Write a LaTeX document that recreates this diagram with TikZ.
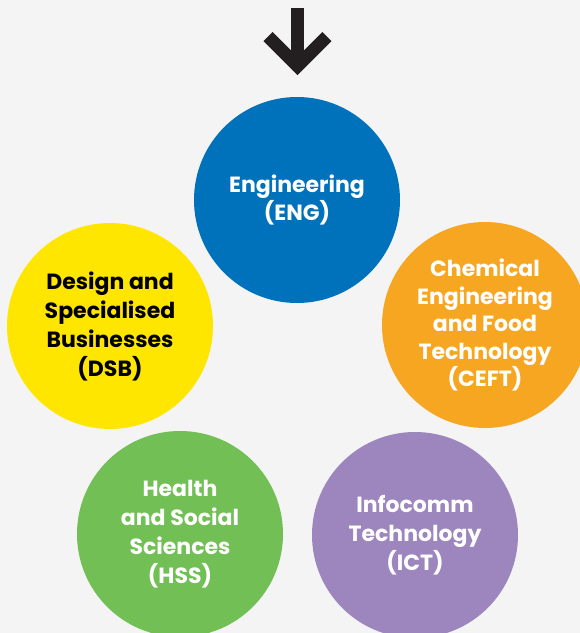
\documentclass[tikz,border=0pt]{standalone}
\usepackage{fontspec}
\setmainfont{Poppins}
\definecolor{bg}{HTML}{F4F4F4}
\definecolor{cblue}{HTML}{0071BB}
\definecolor{cyellow}{HTML}{FFE600}
\definecolor{corange}{HTML}{F7A622}
\definecolor{cgreen}{HTML}{72BF55}
\definecolor{cpurple}{HTML}{9C86BD}
\definecolor{arrowc}{HTML}{231F20}
\tikzset{
  disc/.style={circle, minimum size=206pt, inner sep=0pt, align=center,
    font=\fontsize{22}{27.5}\selectfont\bfseries},
  widelines/.style={font=\fontsize{22}{29}\selectfont\bfseries},
  lighttext/.style={text=white},
}
\begin{document}
\begin{tikzpicture}[x=1pt,y=-1pt]
\fill[bg] (0,0) rectangle (580,633);
\clip (0,0) rectangle (580,633);
\useasboundingbox (0,0) rectangle (580,633);
\node[disc, fill=cblue, lighttext] (eng) at (297,200) {Engineering\\(ENG)};
\node[disc, widelines, fill=cyellow, text=black] (dsb) at (110,326) {Design and\\Specialised\\Businesses\\(DSB)};
\node[disc, fill=corange, lighttext] (ceft) at (485,325) {Chemical\\Engineering\\and Food\\Technology\\(CEFT)};
\node[disc, widelines, fill=cgreen, lighttext] (hss) at (180,534) {Health\\and Social\\Sciences\\(HSS)};
\node[disc, widelines, fill=cpurple, lighttext] (ict) at (415,535) {Infocomm\\Technology\\(ICT)};
\coordinate (stemtop) at (297.5,8);
\coordinate (tip) at (297.5,66);
\draw[arrowc, line width=13pt] (stemtop) -- (tip);
\draw[arrowc, line width=13pt, line join=miter] (268,36.5) -- (tip) -- (327,36.5);
\end{tikzpicture}
\end{document}
